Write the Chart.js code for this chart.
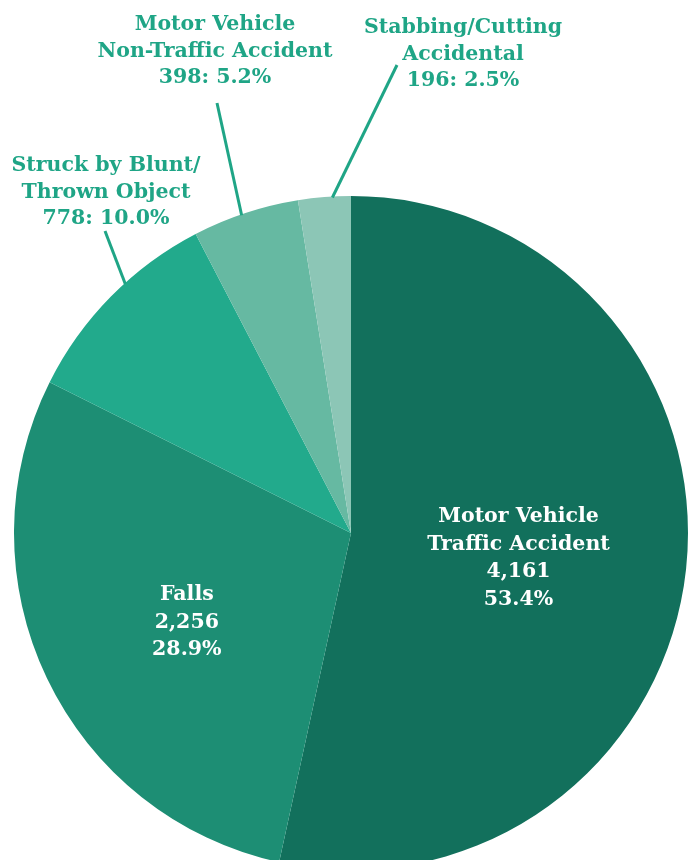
<!DOCTYPE html>
<html><head><meta charset="utf-8">
<script src="https://cdn.jsdelivr.net/npm/chart.js@4/dist/chart.umd.min.js"></script>
<style>
html,body{margin:0;padding:0;background:#fff;overflow:hidden;}
#wrap{width:691px;height:860px;overflow:hidden;position:relative;}
canvas{display:block;}
</style></head>
<body><div id="wrap"><canvas id="c" width="691" height="1100"></canvas></div>
<script>
const categories = ["Motor Vehicle Traffic Accident","Falls","Struck by Blunt/Thrown Object","Motor Vehicle Non-Traffic Accident","Stabbing/Cutting Accidental"];
const labelLines = [["Motor Vehicle","Traffic Accident"],["Falls"],["Struck by Blunt/","Thrown Object"],["Motor Vehicle","Non-Traffic Accident"],["Stabbing/Cutting","Accidental"]];
const counts = [4161, 2256, 778, 398, 196];
const countLabels = ["4,161","2,256","778","398","196"];
const percentLabels = ["53.4%","28.9%","10.0%","5.2%","2.5%"];
const colors = ["#12705c","#1d8e74","#22aa8c","#66b9a2","#8cc6b6"];

// label layout: inside (radius fraction) or outside (text anchor + leader start + arc fraction)
const layout = [
  {inside:true, rf:0.50, dy:7},
  {inside:true, rf:0.54, dy:11},
  {inside:false, tx:106, ty:166, lx:105, ly:231, af:0.59},
  {inside:false, tx:215, ty:25, lx:217, ly:103, af:0.46},
  {inside:false, tx:463, ty:28, lx:397, ly:65, af:0.65}
];

const FONT = '"DejaVu Serif",serif';
const labelPlugin = {
  id:'labels',
  afterDatasetsDraw(chart){
    const ctx = chart.ctx;
    const meta = chart.getDatasetMeta(0);
    ctx.save();
    meta.data.forEach((arc,i)=>{
      const p = arc.getProps(['x','y','startAngle','endAngle','outerRadius'],true);
      const L = layout[i];
      ctx.textAlign='center'; ctx.textBaseline='middle';
      if(L.inside){
        const mid = (p.startAngle+p.endAngle)/2;
        const r = p.outerRadius*L.rf;
        const cx = p.x + Math.cos(mid)*r, cy = p.y + Math.sin(mid)*r + L.dy;
        const lines = [...labelLines[i], countLabels[i], percentLabels[i]];
        const lh = 27.5;
        ctx.fillStyle = '#ffffff';
        ctx.font = 'bold 20.5px '+FONT;
        const y0 = cy - (lines.length-1)*lh/2;
        lines.forEach((t,k)=>ctx.fillText(t, cx, y0+k*lh));
      } else {
        const a = p.startAngle + (p.endAngle-p.startAngle)*L.af;
        const ex = p.x + Math.cos(a)*(p.outerRadius-1), ey = p.y + Math.sin(a)*(p.outerRadius-1);
        ctx.strokeStyle = '#1fa586'; ctx.lineWidth = 3;
        ctx.beginPath(); ctx.moveTo(L.lx, L.ly); ctx.lineTo(ex, ey); ctx.stroke();
        const lines = [...labelLines[i], countLabels[i]+': '+percentLabels[i]];
        ctx.fillStyle = '#1fa586';
        ctx.font = 'bold 20.5px '+FONT;
        lines.forEach((t,k)=>ctx.fillText(t, L.tx, L.ty+k*26.5));
      }
    });
    ctx.restore();
  }
};

new Chart(document.getElementById('c'), {
  type:'pie',
  data:{labels:categories, datasets:[{data:counts, backgroundColor:colors, borderWidth:0}]},
  options:{
    responsive:false, animation:false, devicePixelRatio:1,
    layout:{padding:{left:14,right:3,top:196,bottom:230}},
    plugins:{legend:{display:false}, tooltip:{enabled:false}}
  },
  plugins:[labelPlugin]
});
</script></body></html>
